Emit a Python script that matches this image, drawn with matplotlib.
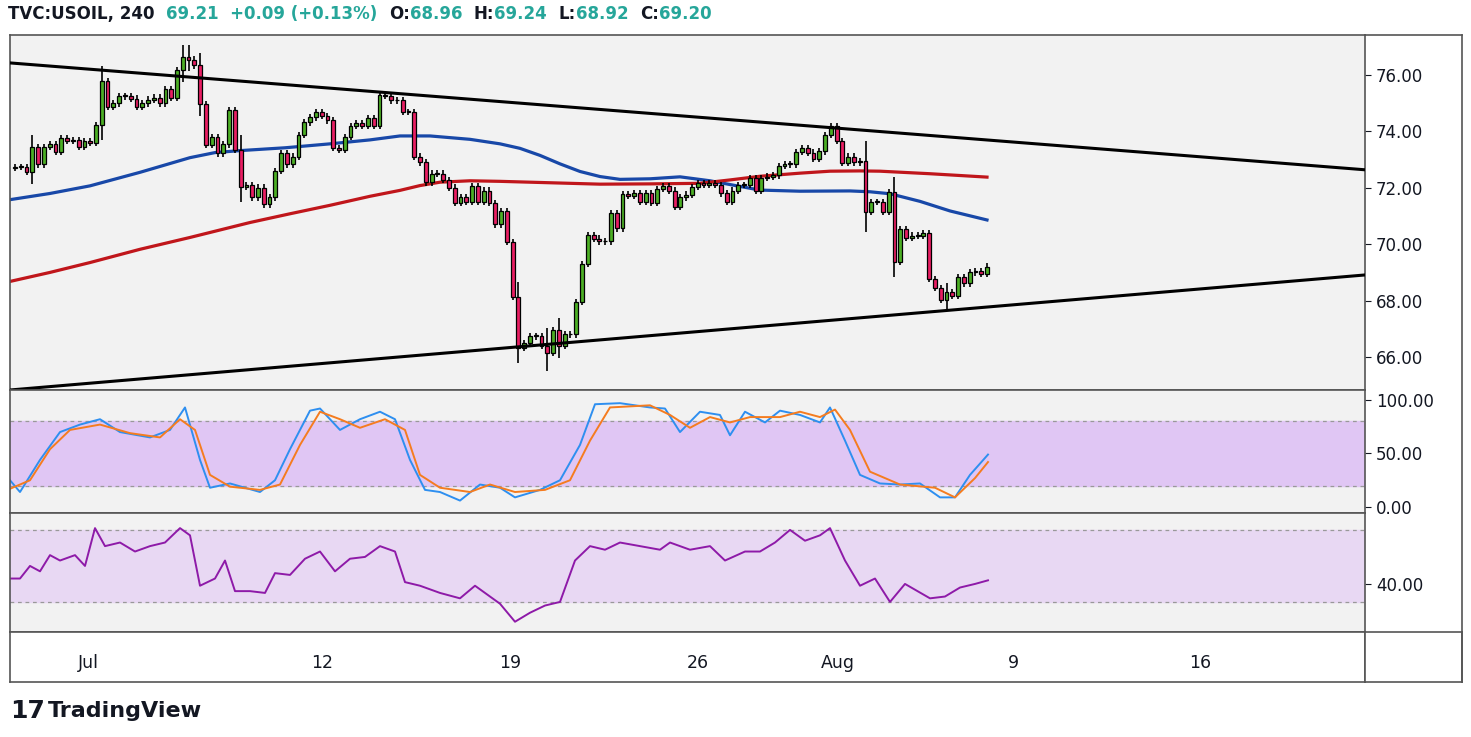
import matplotlib
matplotlib.use("Agg")
import matplotlib.pyplot as plt
import numpy as np

closes = [72.74,72.74,72.56,73.45,72.84,73.45,73.55,73.27,73.77,73.66,73.7,73.45,73.66,73.6,74.23,75.79,74.87,75.0,75.25,75.25,
75.16,74.87,75.0,75.12,75.2,75.0,75.5,75.2,76.18,76.65,76.55,76.35,74.97,73.52,73.8,73.23,73.55,74.76,73.34,72.03,
72.1,71.67,72.0,71.42,71.67,72.6,73.23,72.84,73.1,73.87,74.33,74.5,74.69,74.55,74.4,73.41,73.34,73.8,74.19,74.3,
74.2,74.48,74.2,75.29,75.27,75.1,75.1,74.69,74.69,73.1,72.9,72.2,72.5,72.5,72.28,72.0,71.46,71.66,71.5,72.06,
71.5,71.9,71.46,70.7,71.18,70.08,68.13,66.32,66.5,66.74,66.74,66.4,66.14,66.95,66.4,66.8,66.8,67.95,69.3,70.33,
70.2,70.1,70.1,71.1,70.57,71.78,71.72,71.8,71.5,71.8,71.46,71.96,72.06,71.9,71.32,71.67,71.75,72.03,72.17,72.1,
72.17,72.1,71.8,71.5,71.9,72.1,72.1,72.35,71.9,72.35,72.4,72.45,72.77,72.84,72.84,73.27,73.41,73.25,73.02,73.3,
73.87,74.19,73.66,72.88,73.1,72.9,72.95,71.15,71.5,71.5,71.15,71.85,69.37,70.54,70.22,70.3,70.3,70.4,68.77,68.45,
68.03,68.3,68.17,68.84,68.62,69.0,69.05,68.95,69.2]
first_open = 72.7
wick_extra = {3: 0.3, 15: 0.4, 29: 0.3, 30: 0.3, 32: 0.3, 39: 0.4, 87: 0.4, 92: 0.5, 94: 0.3, 147: 0.6, 152: 0.4, 161: 0.2}

blue_px = [10,50,90,140,190,215,240,285,330,370,400,430,470,500,520,540,560,580,600,620,650,680,710,740,760,800,850,870,890,920,950,987]
blue_y = [71.58,71.8,72.07,72.55,73.07,73.25,73.32,73.42,73.56,73.7,73.84,73.84,73.72,73.56,73.4,73.15,72.85,72.58,72.4,72.3,72.32,72.39,72.25,72.05,71.92,71.88,71.89,71.86,71.79,71.52,71.18,70.86]
red_px = [10,50,90,140,190,250,290,330,370,400,420,440,470,500,550,600,650,700,730,760,800,830,860,880,930,987]
red_y = [68.68,69.0,69.35,69.82,70.24,70.77,71.08,71.38,71.7,71.91,72.08,72.2,72.25,72.23,72.18,72.13,72.14,72.16,72.28,72.41,72.52,72.59,72.6,72.59,72.5,72.38]

k_px = [10,20,40,60,80,100,120,150,170,185,200,210,230,260,275,290,310,320,340,360,380,395,410,425,440,460,480,500,515,540,560,580,595,620,650,665,680,700,720,730,745,765,780,800,820,830,845,860,880,900,920,940,955,970,988]
k_val = [25,14,44,70,77,82,70,65,72,93,44,18,22,14,25,54,90,92,72,82,89,82,44,16,14,6,21,18,9,16,25,58,96,97,93,92,70,89,86,67,89,79,90,86,79,93,62,30,22,21,22,9,9,30,49]
d_px = [10,30,50,70,100,130,160,180,195,210,230,260,280,300,320,340,360,385,405,420,440,470,490,515,545,570,590,610,650,670,690,710,730,750,780,800,820,835,850,870,900,935,955,975,988]
d_val = [17,25,54,72,77,69,65,82,72,30,19,16,21,58,89,82,74,82,72,30,18,14,21,14,16,25,62,93,95,86,74,84,79,84,84,89,84,91,72,33,21,18,9,27,42]
rsi_px = [10,20,30,40,50,60,75,85,95,105,120,135,150,165,180,190,200,215,225,235,250,265,275,290,305,320,335,350,365,380,395,405,420,440,460,475,490,500,515,530,545,560,575,590,605,620,640,660,670,690,710,725,745,760,775,790,805,820,830,845,860,875,890,905,930,945,960,975,988]
rsi_val = [43,43,50,47,56,53,56,50,71,61,63,58,61,63,71,67,39,43,53,36,36,35,46,45,54,58,47,54,55,61,58,41,39,35,32,39,33,29,19,24,28,30,53,61,59,63,61,59,63,59,61,53,58,58,63,70,64,67,71,53,39,43,30,40,32,33,38,40,42]

date_px = [88,322,510,698,838,1013,1200]
date_labels = ["Jul","12","19","26","Aug","9","16"]

SP = 5.786
def bar(px):
    return (np.asarray(px, float) - 15) / SP
X0, X1 = bar(10), bar(1365)

W, H = 1471, 737
fig = plt.figure(figsize=(W/100, H/100), dpi=100)
fig.patch.set_facecolor("white")
def ax_at(x0, y0, x1, y1):
    return fig.add_axes([x0/W, 1-y1/H, (x1-x0)/W, (y1-y0)/H])

BG = "#f2f2f2"
axm = ax_at(10, 35, 1365, 390)
axs = ax_at(10, 390, 1365, 513)
axr = ax_at(10, 513, 1365, 632)
for a in (axm, axs, axr):
    a.set_facecolor(BG)
    a.set_xlim(X0, X1)
    a.set_xticks([])
    a.yaxis.tick_right()
    a.tick_params(axis="y", length=4, labelsize=12, colors="#131722", pad=4)
    for s in a.spines.values():
        s.set_color("#555555"); s.set_linewidth(1.2)

o = [first_open] + closes[:-1]
for i, c in enumerate(closes):
    op = o[i]
    up = c >= op
    col = "#4caf25" if up else "#e91e63"
    w = 0.12 + wick_extra.get(i, 0)
    hi = max(op, c) + w
    lo = min(op, c) - w
    axm.vlines(i, lo, hi, color="black", lw=1.2, zorder=3)
    bh = max(abs(c-op), 0.03)
    axm.add_patch(plt.Rectangle((i-0.33, min(op, c)), 0.66, bh, facecolor=col, edgecolor="black", lw=0.9, zorder=4))

axm.plot(bar(blue_px), blue_y, color="#1848a8", lw=2.3, zorder=2, solid_joinstyle="round")
axm.plot(bar(red_px), red_y, color="#c0161b", lw=2.3, zorder=2, solid_joinstyle="round")
axm.plot([X0, X1], [76.43, 72.64], color="black", lw=2.2, zorder=5)
axm.plot([X0, X1], [64.83, 68.91], color="black", lw=2.2, zorder=5)
axm.set_ylim(64.83, 77.42)
axm.set_yticks([66, 68, 70, 72, 74, 76])
axm.set_yticklabels([f"{v:.2f}" for v in [66, 68, 70, 72, 74, 76]])

axs.axhspan(20, 80, color="#e0c6f4", zorder=0)
for v in (20, 80):
    axs.axhline(v, color="#999999", lw=0.9, ls=(0, (3, 3)))
axs.plot(bar(k_px), k_val, color="#2e8ff0", lw=1.4)
axs.plot(bar(d_px), d_val, color="#f57c1f", lw=1.4)
axs.set_ylim(-5.6, 109.3)
axs.set_yticks([0, 50, 100])
axs.set_yticklabels(["0.00", "50.00", "100.00"])

axr.axhspan(30, 70, color="#e8d8f3", zorder=0)
for v in (30, 70):
    axr.axhline(v, color="#999999", lw=0.9, ls=(0, (3, 3)))
axr.plot(bar(rsi_px), rsi_val, color="#8e1aa8", lw=1.4)
axr.set_ylim(13.3, 79.4)
axr.set_yticks([40])
axr.set_yticklabels(["40.00"])

axx = ax_at(10, 632, 1365, 682)
axx.set_xlim(X0, X1); axx.set_ylim(0, 1)
axx.set_yticks([])
axx.set_xticks(bar(date_px))
axx.set_xticklabels(date_labels)
axx.tick_params(axis="x", direction="in", pad=-20, length=0, labelsize=12.5, colors="#131722")
for s in axx.spines.values():
    s.set_color("#555555"); s.set_linewidth(1.2)
axc = ax_at(1365, 632, 1462, 682)
axc.set_xticks([]); axc.set_yticks([])
for s in axc.spines.values():
    s.set_color("#555555"); s.set_linewidth(1.2)
fig.add_artist(plt.Line2D([1462/W, 1462/W], [1-35/H, 1-682/H], color="#555555", lw=1.2))
fig.add_artist(plt.Line2D([1365/W, 1462/W], [1-35/H, 1-35/H], color="#555555", lw=1.2))

parts = [("TVC:USOIL, 240  ", "#131722"), ("69.21  +0.09 (+0.13%)  ", "#26a69a"),
         ("O:", "#131722"), ("68.96  ", "#26a69a"), ("H:", "#131722"), ("69.24  ", "#26a69a"),
         ("L:", "#131722"), ("68.92  ", "#26a69a"), ("C:", "#131722"), ("69.20", "#26a69a")]
fig.canvas.draw()
r = fig.canvas.get_renderer()
x = 8
for t, col in parts:
    tx = fig.text(x/W, 1-14/H, t, color=col, fontsize=12, fontweight="bold", va="center", ha="left")
    bb = tx.get_window_extent(r)
    x += bb.width
fig.text(10/W, 1-711/H, "17", fontsize=18, fontweight="black", color="#131722", va="center")
fig.text(48/W, 1-711/H, "TradingView", fontsize=16, fontweight="bold", color="#131722", va="center")

fig.savefig("out.png", dpi=100, facecolor="white")
